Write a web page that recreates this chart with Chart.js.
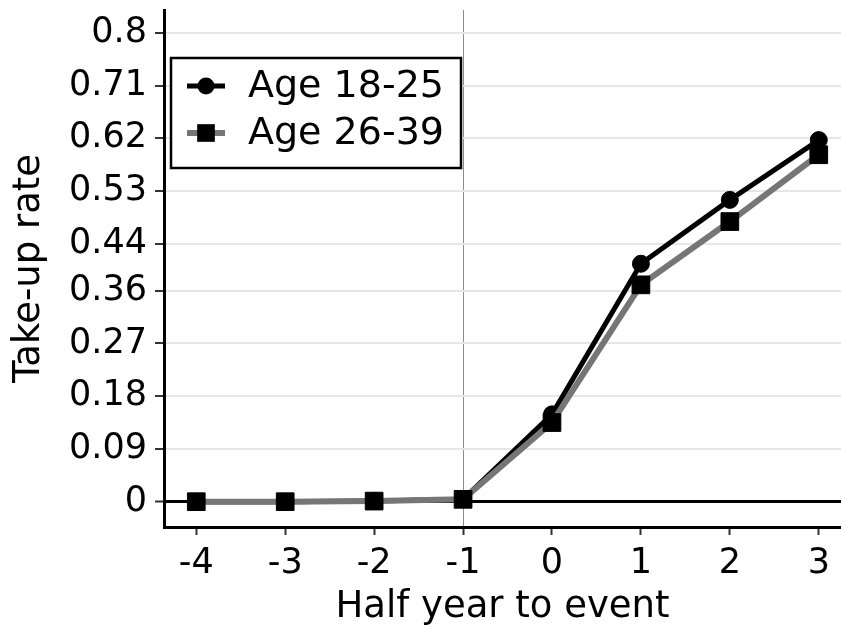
<!DOCTYPE html>
<html>
<head>
<meta charset="utf-8">
<script src="https://cdn.jsdelivr.net/npm/chart.js@4.4.1/dist/chart.umd.min.js"></script>
<style>
html, body { margin: 0; padding: 0; background: #fff; }
</style>
</head>
<body>
<canvas id="myChart" width="841" height="637"></canvas>
<script>
// half years relative to event
let half_years = [-4, -3, -2, -1, 0, 1, 2, 3];
let x_tick_labels = ["-4", "-3", "-2", "-1", "0", "1", "2", "3"];

// take-up rate by age group
let age_18_25 = [0, 0, 0.001, 0.004, 0.149, 0.406, 0.515, 0.617];
let age_26_39 = [0, 0, 0.001, 0.004, 0.135, 0.370, 0.478, 0.592];

let y_ticks = [0, 0.09, 0.18, 0.27, 0.36, 0.44, 0.53, 0.62, 0.71, 0.8];
let y_tick_labels = ["0", "0.09", "0.18", "0.27", "0.36", "0.44", "0.53", "0.62", "0.71", "0.8"];

let tickFont = { family: "DejaVu Sans", size: 35 };
let titleFont = { family: "DejaVu Sans", size: 37 };

// legend with a frame, drawn inside the plot
const boxLegend = {
    id: 'boxLegend',
    afterDraw(chart)
    {
        let ctx = chart.ctx;
        let a = chart.chartArea;
        let x0 = a.left + 7, y0 = a.top + 48, w = 290, h = 110;

        ctx.save();
        ctx.fillStyle = '#fff';
        ctx.fillRect(x0, y0, w, h);
        ctx.strokeStyle = '#000';
        ctx.lineWidth = 2.5;
        ctx.strokeRect(x0, y0, w, h);

        chart.data.datasets.forEach((ds, i) => {
            let cy = y0 + 28 + i * 47;
            let mx = x0 + 35;

            ctx.strokeStyle = ds.borderColor;
            ctx.lineWidth = ds.borderWidth;
            ctx.beginPath();
            ctx.moveTo(x0 + 16, cy);
            ctx.lineTo(x0 + 54, cy);
            ctx.stroke();

            ctx.fillStyle = ds.pointBackgroundColor;
            ctx.beginPath();
            if (ds.pointStyle == 'rect')
            {
                let s = ds.pointRadius * Math.SQRT1_2;
                ctx.rect(mx - s, cy - s, 2 * s, 2 * s);
            }
            else
            {
                ctx.arc(mx, cy, ds.pointRadius, 0, Math.PI * 2);
            }
            ctx.fill();

            ctx.fillStyle = '#000';
            ctx.font = '38px "DejaVu Sans"';
            ctx.textBaseline = 'middle';
            ctx.textAlign = 'left';
            ctx.fillText(ds.label, x0 + 77, cy + 1);
        });
        ctx.restore();
    }
};

new Chart(document.getElementById('myChart'),
    {
        type: 'line',
        data:
        {
            datasets: [
                {
                    label: 'Age 18-25',
                    data: half_years.map((h, i) => ({ x: h, y: age_18_25[i] })),
                    borderColor: '#000',
                    borderWidth: 5,
                    pointStyle: 'circle',
                    pointRadius: 8.5,
                    pointBackgroundColor: '#000',
                    pointBorderColor: '#000',
                    pointBorderWidth: 1,
                    order: 1
                },
                {
                    label: 'Age 26-39',
                    data: half_years.map((h, i) => ({ x: h, y: age_26_39[i] })),
                    borderColor: '#767676',
                    borderWidth: 6,
                    pointStyle: 'rect',
                    pointRadius: 12.5,
                    pointBackgroundColor: '#000',
                    pointBorderColor: '#000',
                    pointBorderWidth: 1,
                    order: 0
                }
            ]
        },
        options:
        {
            responsive: false,
            animation: false,
            devicePixelRatio: 1,
            layout: {
                autoPadding: false,
                padding: { top: 10, right: 0, left: 0, bottom: 0 }
            },
            plugins: {
                legend: { display: false },
                tooltip: { enabled: false }
            },
            scales: {
                x: {
                    type: 'linear',
                    min: -4.363,
                    max: 3.25,
                    afterBuildTicks: s => { s.ticks = half_years.map(v => ({ value: v })); },
                    afterFit: s => {
                        s.height = 110;
                        s.paddingLeft = 0;
                        s.paddingRight = 0;
                    },
                    ticks: {
                        autoSkip: false,
                        maxRotation: 0,
                        callback: (v, i) => x_tick_labels[i],
                        font: tickFont,
                        color: '#000',
                        padding: 8
                    },
                    grid: {
                        color: c => (c.tick && c.tick.value === -1) ? '#8c8c8c' : 'rgba(0,0,0,0)',
                        lineWidth: 1,
                        tickColor: '#333',
                        tickLength: 8,
                        tickWidth: 2
                    },
                    border: { color: '#000', width: 3 },
                    title: {
                        display: true,
                        text: 'Half year to event',
                        font: titleFont,
                        color: '#000',
                        padding: { top: 0, bottom: 7 }
                    }
                },
                y: {
                    type: 'linear',
                    min: -0.0432,
                    max: 0.839,
                    afterBuildTicks: s => { s.ticks = y_ticks.map(v => ({ value: v })); },
                    afterFit: s => {
                        s.width = 164;
                        s.paddingTop = 0;
                        s.paddingBottom = 0;
                    },
                    ticks: {
                        autoSkip: false,
                        callback: (v, i) => y_tick_labels[i],
                        font: tickFont,
                        color: '#000',
                        padding: 8
                    },
                    grid: {
                        color: c => (c.tick && c.tick.value === 0) ? '#000' : '#e6e6e6',
                        lineWidth: c => (c.tick && c.tick.value === 0) ? 3 : 2,
                        tickColor: '#333',
                        tickLength: 9,
                        tickWidth: 2
                    },
                    border: { color: '#000', width: 3 },
                    title: {
                        display: true,
                        text: 'Take-up rate',
                        font: titleFont,
                        color: '#000',
                        padding: { top: 7, bottom: 0 }
                    }
                }
            }
        },
        plugins: [boxLegend]
    }
);
</script>
</body>
</html>
